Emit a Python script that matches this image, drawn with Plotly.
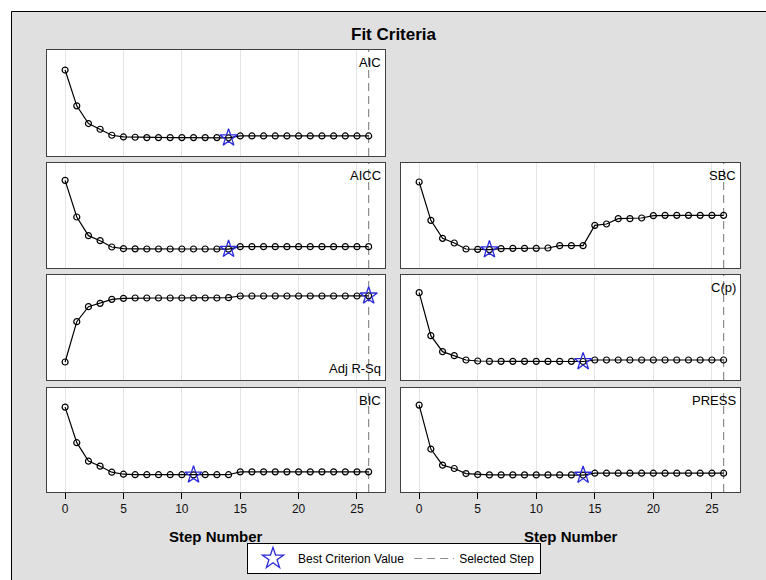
import plotly.graph_objects as go

# ---------------- data (relative criterion values) ----------------
steps = list(range(27))

aic = [257, 150, 97, 80, 62, 57, 56, 55, 55, 55, 55, 55, 55, 55, 54.5,
       60, 60, 60, 60, 60, 60, 60, 60, 60, 60, 60, 60]
aicc = [263, 153, 97, 82, 63, 58, 57.5, 57, 57, 57, 57, 57, 57, 57, 56.5,
        64, 64, 64, 64, 64, 64, 64, 64, 64, 64, 64, 64]
adj_rsq = [54, 175, 220, 230, 242, 245, 246, 246, 246, 246, 246, 246, 246, 246, 247,
           252, 252, 252, 252, 252, 252, 252, 252, 252, 252, 252, 252.5]
bic = [253, 147, 92, 77, 59, 53, 51.5, 51.5, 51.5, 51.5, 51.5, 51, 51.5, 51.5, 51.5,
       60, 60, 60, 60, 60, 60, 60, 60, 60, 60, 60, 60]
sbc = [258, 143, 89, 75, 57, 56, 55, 58, 59, 59, 59, 60, 67, 67, 67,
       128, 132, 148, 148, 150, 157, 158, 158, 158, 158, 158, 158]
cp = [262, 133, 85, 73, 60, 57, 56, 56, 56, 56, 56, 56, 56, 56, 55.5,
      60, 60, 60, 60, 60, 60, 60, 60, 60, 60, 60, 60]
press = [259, 128, 80, 70, 55, 52, 51, 51, 51, 51, 51, 51, 51, 51, 50.5,
         56, 56, 56, 56, 56, 56, 56, 56, 56, 56, 56, 56]

selected_step = 26
tick_values = [0, 5, 10, 15, 20, 25]
title_text = "Fit Criteria"
xlabel = "Step Number"
legend_best = "Best Criterion Value"
legend_sel = "Selected Step"

# ---------------- layout helpers ----------------
W, H = 766, 580
FONT = "Liberation Sans, Arial, sans-serif"


def xd(a, b):
    return [a / W, b / W]


def yd(top, bottom):
    return [1 - bottom / H, 1 - top / H]


LEFT = (47, 385)
RIGHT = (401, 740)
ROWS = [(50, 156), (163, 268), (275, 380), (388, 492)]

# (label, data, best is max?, column, row, y-range, label at bottom?)
panels = [
    ("AIC", aic, False, LEFT, 0, [0, 317], False),
    ("AICC", aicc, False, LEFT, 1, [0, 315], False),
    ("SBC", sbc, False, RIGHT, 1, [0, 315], False),
    ("Adj R-Sq", adj_rsq, True, LEFT, 2, [0, 315], True),
    ("C(p)", cp, False, RIGHT, 2, [0, 315], False),
    ("BIC", bic, False, LEFT, 3, [0, 310], False),
    ("PRESS", press, False, RIGHT, 3, [0, 310], False),
]

fig = go.Figure()
layout = {}
annotations = []
shapes = []

for i, (label, vals, use_max, col, row, yr, bottom_label) in enumerate(panels, start=1):
    xa = "xaxis" if i == 1 else f"xaxis{i}"
    ya = "yaxis" if i == 1 else f"yaxis{i}"
    xr = "x" if i == 1 else f"x{i}"
    yr_ = "y" if i == 1 else f"y{i}"
    is_bottom = row == 3
    layout[xa] = dict(
        domain=xd(*col), anchor=yr_, range=[-1.55, 27.4],
        tickvals=tick_values, showticklabels=is_bottom,
        ticks="outside" if is_bottom else "", ticklen=6, tickcolor="#000000",
        tickfont=dict(family=FONT, size=12, color="#111111"),
        showgrid=True, gridcolor="#e4e4e4", gridwidth=1, zeroline=False,
        showline=True, linecolor="#404040", linewidth=1, mirror=True,
    )
    layout[ya] = dict(
        domain=yd(*ROWS[row]), anchor=xr, range=yr,
        showticklabels=False, ticks="", showgrid=False, zeroline=False,
        showline=True, linecolor="#404040", linewidth=1, mirror=True,
    )
    # selected step reference line
    shapes.append(dict(type="line", xref=xr, yref=f"{yr_} domain",
                       x0=selected_step, x1=selected_step, y0=0, y1=1,
                       line=dict(color="#8c8c8c", width=1.2, dash="8px,5px"),
                       layer="below"))
    fig.add_trace(go.Scatter(
        x=steps, y=vals, xaxis=xr, yaxis=yr_, mode="lines+markers",
        line=dict(color="#000000", width=1.2),
        marker=dict(symbol="circle-open", size=6, color="#000000",
                    line=dict(width=1.2)),
        showlegend=False, hoverinfo="x+y",
    ))
    best_val = max(vals) if use_max else min(vals)
    best_idx = vals.index(best_val)
    fig.add_trace(go.Scatter(
        x=[steps[best_idx]], y=[best_val], xaxis=xr, yaxis=yr_, mode="markers",
        marker=dict(symbol="star-open", size=13, color="#2b2bdc",
                    line=dict(width=1.3, color="#2b2bdc")),
        showlegend=False,
    ))
    annotations.append(dict(
        text=label, xref=f"{xr} domain", yref=f"{yr_} domain",
        x=0.993, y=0.015 if bottom_label else 0.975,
        xanchor="right", yanchor="bottom" if bottom_label else "top",
        showarrow=False, font=dict(family=FONT, size=13, color="#000000"),
    ))

# legend-only traces
fig.add_trace(go.Scatter(
    x=[None], y=[None], mode="markers", name=legend_best,
    marker=dict(symbol="star-open", size=16, color="#2b2bdc",
                line=dict(width=1.3, color="#2b2bdc")),
))
fig.add_trace(go.Scatter(
    x=[None], y=[None], mode="lines", name=legend_sel,
    line=dict(color="#8c8c8c", width=1.2, dash="8px,5px"),
))

# title and axis titles
annotations.append(dict(text=f"<b>{title_text}</b>", xref="paper", yref="paper",
                        x=394 / W, y=1 - 35 / H, xanchor="center", yanchor="middle",
                        showarrow=False, font=dict(family=FONT, size=17, color="#000000")))
for col in (LEFT, RIGHT):
    annotations.append(dict(text=f"<b>{xlabel}</b>", xref="paper", yref="paper",
                            x=(col[0] + col[1]) / 2 / W, y=1 - 536 / H,
                            xanchor="center", yanchor="middle", showarrow=False,
                            font=dict(family=FONT, size=15, color="#000000")))

# outer frame: white strips on top/left, black border line
shapes += [
    dict(type="rect", xref="paper", yref="paper", x0=0, x1=11 / W, y0=0, y1=1,
         fillcolor="#ffffff", line=dict(width=0)),
    dict(type="rect", xref="paper", yref="paper", x0=0, x1=1, y0=1 - 11 / H, y1=1,
         fillcolor="#ffffff", line=dict(width=0)),
    dict(type="line", xref="paper", yref="paper", x0=11.5 / W, x1=11.5 / W,
         y0=0, y1=1 - 11.5 / H, line=dict(color="#000000", width=1)),
    dict(type="line", xref="paper", yref="paper", x0=11.5 / W, x1=1,
         y0=1 - 11.5 / H, y1=1 - 11.5 / H, line=dict(color="#000000", width=1)),
]

fig.update_layout(
    width=W, height=H, margin=dict(l=0, r=0, t=0, b=0),
    paper_bgcolor="#e0e0e0", plot_bgcolor="#ffffff",
    font=dict(family=FONT, size=12, color="#000000"),
    annotations=annotations, shapes=shapes,
    showlegend=True,
    legend=dict(orientation="h", x=394 / W, y=1 - 574 / H,
                xanchor="center", yanchor="bottom",
                bgcolor="#ffffff", bordercolor="#000000", borderwidth=1,
                font=dict(family=FONT, size=12, color="#000000"),
                itemwidth=40, tracegroupgap=0),
    **layout,
)

fig.write_html("out.html",
               config={"displayModeBar": False},
               post_script="document.body.style.margin='0';document.body.style.overflow='hidden';")
